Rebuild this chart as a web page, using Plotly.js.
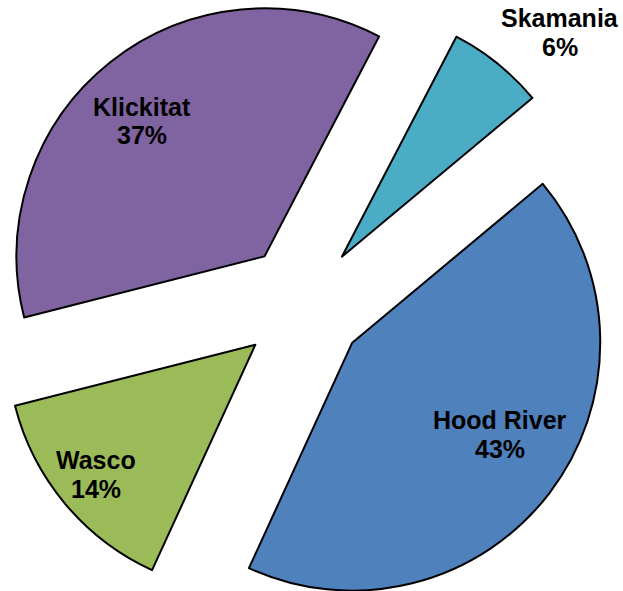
<!DOCTYPE html>
<html>
<head>
<meta charset="utf-8">
<script src="https://cdn.plot.ly/plotly-3.0.1.min.js"></script>
<style>
  html, body { margin: 0; padding: 0; width: 623px; height: 591px; overflow: hidden; background: #ffffff; }
  #chart { position: absolute; left: -17px; top: -5px; width: 640px; height: 620px; }
</style>
</head>
<body>
<div id="chart"></div>
<script>
// ---- data (shares; labels show rounded percent) ----
const counties = ["Skamania", "Hood River", "Wasco", "Klickitat"];
const shares   = [6.3, 42.9, 14.2, 36.6];
const sliceColors = ["#4BACC6", "#4F81BD", "#9BBB59", "#8064A2"];

// ---- label placement (pixel centres of the two text lines, in page pixels) ----
const labelPx = [
  {x: 560, y1: 18,  y2: 47},
  {x: 500, y1: 420, y2: 449},
  {x: 96,  y1: 460, y2: 489},
  {x: 142, y1: 107, y2: 135}
];
const DIV_LEFT = -17, DIV_TOP = -5, DIV_W = 640, DIV_H = 620;
function toPaperX(px) { return (px - DIV_LEFT) / DIV_W; }
function toPaperY(py) { return 1 - (py - DIV_TOP) / DIV_H; }

const labelFont = {family: "Liberation Sans, Arial, sans-serif", size: 25, color: "#000000", weight: "bold"};

const total = shares.reduce(function(a, b) { return a + b; }, 0);
const annotations = [];
counties.forEach(function(name, i) {
  const p = labelPx[i];
  const pct = Math.round(100 * shares[i] / total);
  annotations.push({
    xref: "paper", yref: "paper", x: toPaperX(p.x), y: toPaperY(p.y1),
    xanchor: "center", yanchor: "middle", showarrow: false,
    text: "<b>" + name + "</b>", font: labelFont
  });
  annotations.push({
    xref: "paper", yref: "paper", x: toPaperX(p.x), y: toPaperY(p.y2),
    xanchor: "center", yanchor: "middle", showarrow: false,
    text: "<b>" + pct + "%</b>", font: labelFont
  });
});

const trace = {
  type: "pie",
  labels: counties,
  values: shares,
  sort: false,
  direction: "clockwise",
  rotation: 27.5,
  pull: [0.25, 0.25, 0.25, 0.25],
  marker: { colors: sliceColors, line: { color: "#000000", width: 2 } },
  textinfo: "none",
  hoverinfo: "skip",
  showlegend: false
};

const layout = {
  width: DIV_W,
  height: DIV_H,
  margin: {l: 0, r: 0, t: 0, b: 0, pad: 0},
  paper_bgcolor: "rgba(0,0,0,0)",
  plot_bgcolor: "rgba(0,0,0,0)",
  showlegend: false,
  annotations: annotations
};

Plotly.newPlot("chart", [trace], layout, {displayModeBar: false, staticPlot: true});
</script>
</body>
</html>
